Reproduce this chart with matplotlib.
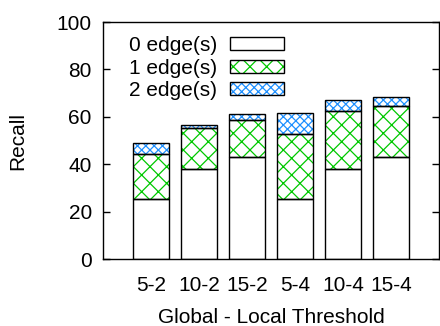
import numpy
import matplotlib
matplotlib.use('Agg')
import matplotlib.pyplot as plt
from matplotlib.patches import Patch
from matplotlib.legend_handler import HandlerTuple

thresholds = ['5-2', '10-2', '15-2', '5-4', '10-4', '15-4']
edge0 = [25.4, 37.8, 43.1, 25.4, 37.8, 43.1]
edge1 = [19.1, 17.6, 15.7, 27.5, 24.8, 21.6]
edge2 = [4.6, 1.2, 2.3, 8.7, 4.5, 3.5]
series_names = ['0 edge(s)', '1 edge(s)', '2 edge(s)']

plt.rcParams['font.family'] = ['Liberation Sans', 'DejaVu Sans']
plt.rcParams['font.size'] = 15
plt.rcParams['hatch.linewidth'] = 0.9

fig = plt.figure(figsize=(4.4, 3.26), dpi=100)
ax = fig.add_axes([0.234, 0.2055, 0.7636, 0.727])

x = numpy.arange(len(thresholds))
width = 0.75
series = [edge0, edge1, edge2]
hatches = [None, 'xx', 'xxxx']
hatch_colors = ['none', '#00c800', '#1e90ff']

bottom = numpy.zeros(len(thresholds))
handles = []
for vals, h, hc in zip(series, hatches, hatch_colors):
    vals = numpy.array(vals)
    if h is not None:
        ax.bar(x, vals, width, bottom=bottom, color='white', edgecolor=hc,
               hatch=h, linewidth=0, zorder=2)
    ax.bar(x, vals, width, bottom=bottom, color='none', edgecolor='black',
           linewidth=1.0, zorder=3)
    bottom = bottom + vals
    fill = Patch(facecolor='white', edgecolor=hc, hatch=h, linewidth=0)
    outline = Patch(facecolor='none', edgecolor='black', linewidth=1.0)
    handles.append((fill, outline))

ax.set_xlim(-1, 6)
ax.set_ylim(0, 100)
ax.set_yticks([0, 20, 40, 60, 80, 100])
ax.set_xticks(x)
ax.set_xticklabels(thresholds)
ax.tick_params(axis='x', length=0, pad=12)
ax.tick_params(axis='y', direction='in', length=5, width=1, pad=8,
               left=True, right=True)
for s in ax.spines.values():
    s.set_linewidth(1.0)

ax.set_ylabel('Recall')
ax.yaxis.set_label_coords(-0.226, 0.5)
ax.set_xlabel('Global - Local Threshold')
ax.xaxis.set_label_coords(0.5, -0.205)

ax.legend(handles, series_names,
          handler_map={tuple: HandlerTuple(ndivide=1, pad=0)},
          loc='upper left', bbox_to_anchor=(0.047, 0.985), frameon=False,
          markerfirst=False, borderpad=0, handlelength=2.6, handleheight=0.6,
          handletextpad=0.6, labelspacing=0.17)

plt.savefig('out.png', dpi=100)
